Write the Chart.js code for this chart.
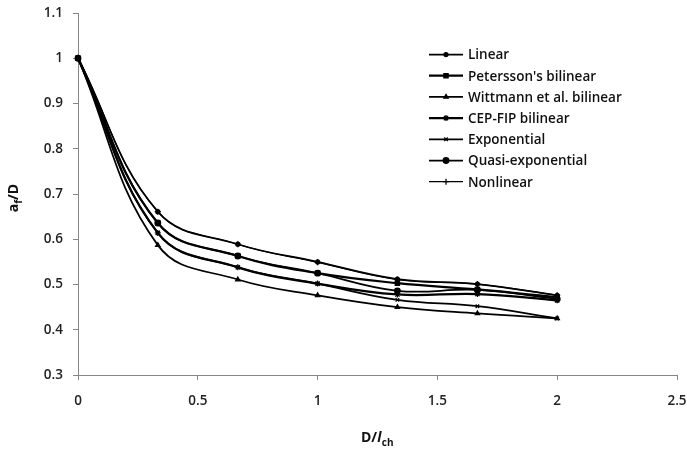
<!DOCTYPE html>
<html><head><meta charset="utf-8">
<script src="https://cdn.jsdelivr.net/npm/chart.js@4/dist/chart.umd.min.js"></script>
<style>html,body{margin:0;padding:0;background:#fff}</style>
</head><body>
<canvas id="c" width="687" height="451"></canvas>
<script>
// D / l_ch values
const xValues = [0, 0.333, 0.667, 1, 1.333, 1.667, 2];
const seriesNames = ["Linear", "Petersson's bilinear", "Wittmann et al. bilinear", "CEP-FIP bilinear", "Exponential", "Quasi-exponential", "Nonlinear"];
// a_f / D values
const linearVals      = [1, 0.661, 0.589, 0.550, 0.512, 0.501, 0.476];
const peterssonVals   = [1, 0.636, 0.563, 0.525, 0.503, 0.489, 0.472];
const wittmannVals    = [1, 0.587, 0.511, 0.476, 0.450, 0.436, 0.425];
const cepfipVals      = [1, 0.614, 0.538, 0.502, 0.478, 0.479, 0.465];
const exponentialVals = [1, 0.614, 0.538, 0.502, 0.466, 0.452, 0.425];
const quasiExpVals    = [1, 0.636, 0.563, 0.525, 0.486, 0.488, 0.468];
const nonlinearVals   = [1, 0.661, 0.589, 0.549, 0.511, 0.501, 0.476];
const xTicks = [0, 0.5, 1, 1.5, 2, 2.5];
const yTicks = [0.3, 0.4, 0.5, 0.6, 0.7, 0.8, 0.9, 1, 1.1];

const allVals = [linearVals, peterssonVals, wittmannVals, cepfipVals, exponentialVals, quasiExpVals, nonlinearVals];
const styles = [
  {pointStyle:'circle', radius:2, bw:1.75},
  {pointStyle:'rect', radius:3, bw:2.25},
  {pointStyle:'triangle', radius:2.5, bw:1.75},
  {pointStyle:'star', radius:3, bw:2.25},
  {pointStyle:'crossRot', radius:2.5, bw:1.75},
  {pointStyle:'circle', radius:2.8, bw:1.75},
  {pointStyle:'cross', radius:3, bw:1.25}
];

const datasets = seriesNames.map((name, i) => ({
  label: name,
  data: xValues.map((x, j) => ({x: x, y: allVals[i][j]})),
  borderColor: '#000',
  backgroundColor: '#000',
  borderWidth: styles[i].bw,
  pointStyle: styles[i].pointStyle,
  pointRadius: styles[i].radius,
  pointBorderWidth: 1.25,
  pointBorderColor: '#000',
  pointBackgroundColor: '#000',
  tension: 0.4,
  clip: false
}));

function drawMarker(ctx, style, radius, x, y) {
  if (Chart.helpers && Chart.helpers.drawPoint) {
    Chart.helpers.drawPoint(ctx, {pointStyle: style, radius: radius, rotation: 0, borderWidth: 1.25}, x, y);
  }
}

const overlay = {
  id: 'overlay',
  afterDraw(chart) {
    const ctx = chart.ctx;
    ctx.save();
    // legend
    const lx0 = 429, lx1 = 463, ty0 = 54.5, dy = 21.2;
    ctx.font = '600 13.5px "Open Sans", Lato, sans-serif';
    ctx.textBaseline = 'middle';
    ctx.textAlign = 'left';
    seriesNames.forEach((name, i) => {
      const y = ty0 + i * dy;
      ctx.strokeStyle = '#000';
      ctx.fillStyle = '#000';
      ctx.lineWidth = styles[i].bw;
      ctx.beginPath(); ctx.moveTo(lx0, y); ctx.lineTo(lx1, y); ctx.stroke();
      ctx.lineWidth = 1.25;
      drawMarker(ctx, styles[i].pointStyle, styles[i].radius, (lx0 + lx1) / 2, y);
      ctx.fillStyle = '#111';
      ctx.fillText(name, 468, y + 1);
    });
    // x title: D/l_ch
    ctx.fillStyle = '#111';
    ctx.textBaseline = 'alphabetic';
    const bigFont = 'bold 14px "Open Sans", Lato, sans-serif';
    const italFont = 'italic bold 14px "Open Sans", Lato, sans-serif';
    const subFont = 'bold 10px "Open Sans", Lato, sans-serif';
    ctx.font = bigFont;
    const w1 = ctx.measureText('D/').width;
    ctx.font = italFont;
    const w2 = ctx.measureText('l').width;
    ctx.font = subFont;
    const w3 = ctx.measureText('ch').width;
    let tx = 377 - (w1 + w2 + w3) / 2;
    const ty = 442;
    ctx.font = bigFont; ctx.fillText('D/', tx, ty); tx += w1;
    ctx.font = italFont; ctx.fillText('l', tx, ty); tx += w2 + 0.5;
    ctx.font = subFont; ctx.fillText('ch', tx, ty + 4);
    // y title: a_f/D rotated
    ctx.save();
    ctx.translate(18, 198);
    ctx.rotate(-Math.PI / 2);
    ctx.font = bigFont;
    const a1 = ctx.measureText('a').width;
    ctx.font = subFont;
    const a2 = ctx.measureText('f').width;
    ctx.font = bigFont;
    const a3 = ctx.measureText('/D').width;
    let ax = -(a1 + a2 + a3) / 2;
    ctx.font = bigFont; ctx.fillText('a', ax, 0); ax += a1;
    ctx.font = subFont; ctx.fillText('f', ax, 4); ax += a2;
    ctx.font = bigFont; ctx.fillText('/D', ax, 0);
    ctx.restore();
    ctx.restore();
  }
};

const tickFont = {family: '"Open Sans", Lato, sans-serif', size: 13.5, weight: '600'};

new Chart(document.getElementById('c'), {
  type: 'line',
  data: {datasets},
  plugins: [overlay],
  options: {
    responsive: false,
    animation: false,
    layout: {padding: {top: 13, right: 10, left: 0, bottom: 0}},
    plugins: {legend: {display: false}, tooltip: {enabled: false}},
    scales: {
      x: {
        type: 'linear', min: 0, max: 2.5,
        afterBuildTicks: s => { s.ticks = xTicks.map(v => ({value: v})); },
        afterFit: s => { s.height = 76; s.paddingLeft = 0; s.paddingRight = 0; },
        ticks: {color: '#222', font: tickFont, padding: 13, callback: v => String(+Number(v).toFixed(2))},
        grid: {display: true, drawOnChartArea: false, drawTicks: true, tickLength: 5, color: '#868686', lineWidth: 1},
        border: {display: true, color: '#868686', width: 1}
      },
      y: {
        type: 'linear', min: 0.3, max: 1.1,
        afterBuildTicks: s => { s.ticks = yTicks.map(v => ({value: v})); },
        afterFit: s => { s.width = 78; s.paddingTop = 0; s.paddingBottom = 0; },
        ticks: {color: '#222', font: tickFont, padding: 10, callback: v => String(+Number(v).toFixed(2))},
        grid: {display: true, drawOnChartArea: false, drawTicks: true, tickLength: 5, color: '#868686', lineWidth: 1},
        border: {display: true, color: '#868686', width: 1}
      }
    }
  }
});
</script>
</body></html>
